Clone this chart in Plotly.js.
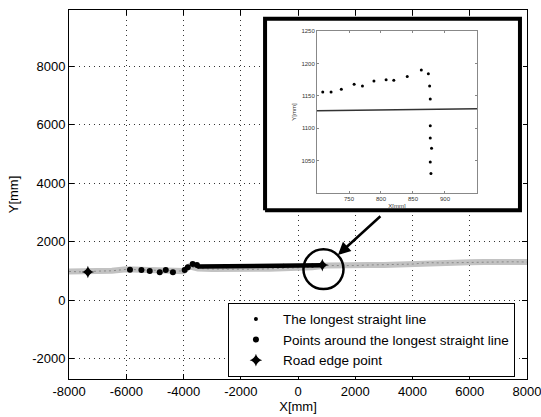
<!DOCTYPE html>
<html>
<head>
<meta charset="utf-8">
<script src="https://cdn.plot.ly/plotly-3.0.1.min.js"></script>
<style>html,body{margin:0;padding:0;background:#fff;}#chart{width:541px;height:417px;}</style>
</head>
<body>
<div id="chart"></div>
<script>
// ---- main chart data (mm) ----
const scanX = [-8000,-7500,-7000,-6500,-6000,-5500,-5000,-4500,-4000,-3800,-3500,-3000,-2500,-2000,-1500,-1000,-500,0,500,1000,1500,2000,2500,3000,3500,4000,4500,5000,5500,6000,6500,7000,7500,8000];
const scanY = [980,960,990,1000,1050,1040,1020,1010,990,1150,1080,1060,1050,1040,1050,1070,1090,1100,1120,1180,1170,1180,1200,1200,1220,1230,1280,1270,1280,1290,1300,1300,1310,1300];

const straightX = [-3500,-2500,-1500,-500,500,850];
const straightY = [1150,1155,1165,1175,1185,1190];

const aroundX = [-5870,-5470,-5180,-4830,-4620,-4370,-3960,-3850,-3680,-3530];
const aroundY = [1034,1024,990,955,1024,955,1024,1126,1229,1195];

const edgeX = [-7340,850];
const edgeY = [960,1195];

// ---- inset data (mm) ----
const insetLineX = [700,950];
const insetLineY = [1127,1130];
const insetPtsX = [709,722,738,758,771,789,808,820,841,863,874,876,877,877,877,879,877,878];
const insetPtsY = [1156,1156,1160,1168,1165,1173,1175,1174,1180,1190,1184,1165,1145,1104,1085,1069,1048,1030];

const xTicks = [-8000,-6000,-4000,-2000,0,2000,4000,6000,8000];
const yTicks = [-2000,0,2000,4000,6000,8000];
const insetXTicks = [750,800,850,900];
const insetYTicks = [1050,1100,1150,1200,1250];

const boxCornersX = [0,1,1,0,0];
const boxCornersY = [0,0,1,1,0];

const FONT = 'Liberation Sans, Arial, sans-serif';

const traces = [
  {x: scanX, y: scanY, type:'scatter', mode:'lines', line:{color:'#c2c2c2', width:6}, showlegend:false, hoverinfo:'skip', xaxis:'x', yaxis:'y'},
  {x: scanX, y: scanY, type:'scatter', mode:'lines', line:{color:'#8a8a8a', width:1, dash:'2px,3px'}, showlegend:false, hoverinfo:'skip', xaxis:'x', yaxis:'y'},
  {x: straightX, y: straightY, type:'scatter', mode:'lines', line:{color:'#000', width:4.5}, showlegend:false, legendgroup:'s', xaxis:'x', yaxis:'y'},
  {x: straightX, y: straightY, type:'scatter', mode:'markers', name:'The longest straight line', legendgroup:'s', marker:{color:'#000', size:4, symbol:'circle'}, xaxis:'x', yaxis:'y'},
  {x: aroundX, y: aroundY, type:'scatter', mode:'markers', name:'Points around the longest straight line', marker:{color:'#000', size:6, symbol:'circle'}, xaxis:'x', yaxis:'y'},
  {x: edgeX, y: edgeY, type:'scatter', mode:'markers', name:'Road edge point', marker:{color:'#000', size:9, symbol:'star-diamond'}, xaxis:'x', yaxis:'y'},
  // inset white box with thick frame
  {x: boxCornersX, y: boxCornersY, type:'scatter', mode:'lines', fill:'toself', fillcolor:'#fff', line:{color:'#000', width:4}, showlegend:false, hoverinfo:'skip', xaxis:'x2', yaxis:'y2'},
  // inset content
  {x: insetLineX, y: insetLineY, type:'scatter', mode:'lines', line:{color:'#333', width:1.5}, showlegend:false, xaxis:'x3', yaxis:'y3'},
  {x: insetPtsX, y: insetPtsY, type:'scatter', mode:'markers', marker:{color:'#000', size:3}, showlegend:false, xaxis:'x3', yaxis:'y3'}
];

// circle around the road edge point, arrow from inset
const cx = edgeX[1] + 40, cy = edgeY[1] - 140;
const rX = 700, rY = 680;

const layout = {
  width:541, height:417,
  margin:{l:69, r:14, t:10, b:38},
  paper_bgcolor:'#fff', plot_bgcolor:'#fff',
  font:{family:FONT, size:13, color:'#000'},
  showlegend:true,
  xaxis:{
    domain:[0,1], range:[-8000,8000], tickvals:xTicks, ticktext:xTicks.map(String),
    showgrid:true, gridcolor:'#333', griddash:'1px,4px', gridwidth:1,
    zeroline:false, showline:true, linecolor:'#000', linewidth:1, mirror:'ticks',
    ticks:'inside', ticklen:5, tickcolor:'#000', tickfont:{size:13}, ticklabeloverflow:'allow',
    title:{text:'X[mm]', font:{size:13}, standoff:1}, automargin:false
  },
  yaxis:{
    domain:[0,1], range:[-2700,9920], tickvals:yTicks, ticktext:yTicks.map(String),
    showgrid:true, gridcolor:'#333', griddash:'1px,4px', gridwidth:1,
    zeroline:false, showline:true, linecolor:'#000', linewidth:1, mirror:'ticks',
    ticks:'inside', ticklen:5, tickcolor:'#000', tickfont:{size:13}, ticklabeloverflow:'allow',
    title:{text:'Y[mm]', font:{size:13}, standoff:10}, automargin:false
  },
  xaxis2:{domain:[0.4214,0.9913], range:[-0.012,1.012], visible:false, fixedrange:true},
  yaxis2:{domain:[0.4499,0.9837], range:[-0.014,1.014], visible:false, fixedrange:true},
  xaxis3:{
    domain:[0.5415,0.8908], range:[700,950], tickvals:insetXTicks, ticktext:insetXTicks.map(String),
    showgrid:false, zeroline:false, showline:true, linecolor:'#888', linewidth:1, mirror:'ticks',
    ticks:'inside', ticklen:2, tickcolor:'#888', tickfont:{size:6, color:'#333'},
    title:{text:'X[mm]', font:{size:6, color:'#333'}, standoff:2}, automargin:false, anchor:'y3'
  },
  yaxis3:{
    domain:[0.504,0.943], range:[1000,1250], tickvals:insetYTicks, ticktext:insetYTicks.map(String),
    showgrid:false, zeroline:false, showline:true, linecolor:'#888', linewidth:1, mirror:'ticks',
    ticks:'inside', ticklen:2, tickcolor:'#888', tickfont:{size:6, color:'#333'},
    title:{text:'Y[mm]', font:{size:6, color:'#333'}, standoff:4}, automargin:false, anchor:'x3'
  },
  legend:{
    x:0.347, y:0.006, xanchor:'left', yanchor:'bottom',
    bgcolor:'#fff', bordercolor:'#000', borderwidth:1,
    font:{size:13.5, family:FONT}, itemwidth:44, tracegroupgap:0
  },
  shapes:[
    {type:'circle', xref:'x', yref:'y', x0:cx-rX, x1:cx+rX, y0:cy-rY, y1:cy+rY, line:{color:'#000', width:2.5}, layer:'above'}
  ],
  annotations:[
    {xref:'x', yref:'y', x:cx+rX*0.72, y:cy+rY*0.72, ax:44, ay:-40, showarrow:true, arrowhead:2, arrowsize:1, arrowwidth:2.5, arrowcolor:'#000', text:''}
  ]
};

Plotly.newPlot('chart', traces, layout, {staticPlot:true, displayModeBar:false});
</script>
</body>
</html>
